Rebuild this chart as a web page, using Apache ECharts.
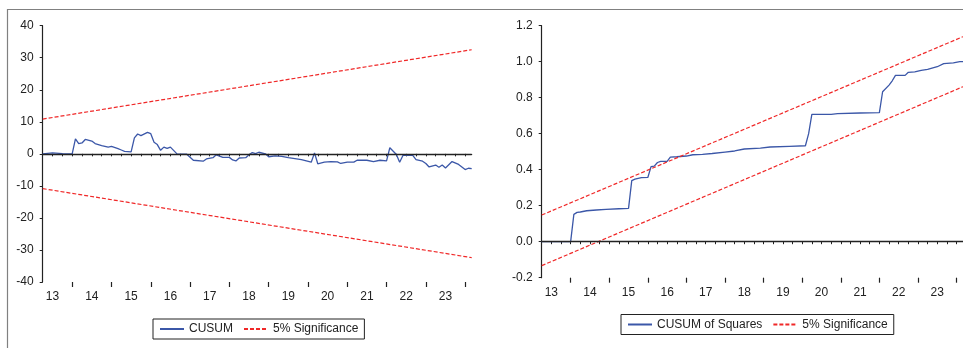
<!DOCTYPE html>
<html>
<head>
<meta charset="utf-8">
<script src="https://cdn.jsdelivr.net/npm/echarts@6.0.0/dist/echarts.min.js"></script>
<style>
  html, body { margin: 0; padding: 0; background: #fff; }
  #main { width: 963px; height: 348px; }
</style>
</head>
<body>
<div id="main"></div>
<script>
// monthly index, 0 = 2013M04 ... 131 = 2024M03
var yearLabels = ['13', '14', '15', '16', '17', '18', '19', '20', '21', '22', '23'];

// CUSUM (left panel)
var cusumMonth = [0, 3, 6, 9, 10, 11, 12, 13, 15, 16,
  18, 20, 21, 23, 24, 25, 27, 28, 29, 30,
  32, 33, 34, 35, 36, 37, 38, 39, 41, 44,
  46, 49, 50, 52, 53, 55, 57, 58, 59, 60,
  62, 63, 64, 65, 66, 68, 69, 71, 73, 75,
  77, 79, 82, 83, 84, 86, 88, 90, 91, 93,
  95, 96, 99, 101, 103, 105, 106, 108, 109, 110,
  113, 114, 116, 117, 118, 120, 121, 122, 123, 125,
  127, 129, 130, 131];
var cusumValue = [0, 0.3, 0.1, 0, 4.7, 3.2, 3.4, 4.5, 4.0, 3.2,
  2.6, 2.1, 2.3, 1.6, 1.2, 0.8, 0.6, 5.0, 6.2, 5.7,
  6.7, 6.3, 3.6, 2.9, 1.1, 2.1, 1.7, 2.1, 0, -0.1,
  -2.0, -2.3, -1.6, -1.2, -0.3, -1.1, -1.1, -1.9, -2.2, -1.3,
  -1.2, -0.3, 0.4, 0.1, 0.5, 0, -0.9, -0.6, -0.8, -1.2,
  -1.5, -1.8, -2.6, 0.3, -3.1, -2.6, -2.4, -2.5, -3.0, -2.6,
  -2.6, -2.0, -2.0, -2.4, -2.0, -2.2, 1.9, -0.2, -2.6, -0.5,
  -0.5, -1.8, -2.3, -3.0, -4.1, -3.5, -4.2, -3.5, -4.4, -2.4,
  -3.3, -4.9, -4.5, -4.6];

// CUSUM of squares (right panel)
var sqMonth = [0, 9, 10, 11, 12, 14, 17, 20, 24, 27,
  28, 29, 31, 33, 34, 35, 36, 37, 39, 40,
  42, 45, 47, 50, 53, 57, 60, 63, 68, 71,
  77, 82, 83, 84, 90, 92, 99, 105, 106, 108,
  109, 110, 113, 114, 116, 118, 120, 123, 125, 128,
  130, 131];
var sqValue = [0, 0, 0.152, 0.163, 0.165, 0.172, 0.176, 0.180, 0.183, 0.185,
  0.339, 0.348, 0.356, 0.357, 0.417, 0.420, 0.440, 0.446, 0.446, 0.470,
  0.472, 0.476, 0.483, 0.485, 0.490, 0.498, 0.504, 0.515, 0.520, 0.526,
  0.530, 0.533, 0.600, 0.707, 0.707, 0.711, 0.715, 0.717, 0.833, 0.870,
  0.894, 0.924, 0.924, 0.941, 0.944, 0.952, 0.957, 0.972, 0.989, 0.994,
  1.0, 1.0];

// 5% significance bands (start / end of sample)
var sigMonth = [0, 131];
var cusumUpper = [10.85, 32.5];
var cusumLower = [-10.85, -32.4];
var sqUpper = [0.148, 1.139];
var sqLower = [-0.133, 0.861];

var BLUE = '#3b57a8';
var RED = '#f02828';
var INK = '#222';
var FONT = '"Liberation Sans", Arial, sans-serif';

function pairs(xs, ys) {
  var out = [];
  for (var i = 0; i < xs.length; i++) out.push([xs[i], ys[i]]);
  return out;
}

// quarter ticks, year ticks (January) and year labels (mid year)
var minorTicks = [], majorTicks = [], labelPos = [];
for (var m = 0; m <= 129; m += 3) minorTicks.push(m);
for (var m = 9; m <= 131; m += 12) majorTicks.push(m);
for (var k = 0; k < yearLabels.length; k++) labelPos.push(3 + 12 * k);

function xAxes(grid) {
  return [
    {
      type: 'value', gridIndex: grid, position: 'bottom', min: 0, max: 131,
      axisLine: { show: true, lineStyle: { color: INK, width: 1.2 } },
      axisTick: { show: true, customValues: minorTicks, length: 2.5, lineStyle: { color: INK, width: 1 } },
      axisLabel: { show: false },
      splitLine: { show: false }
    },
    {
      type: 'value', gridIndex: grid, position: 'bottom', min: 0, max: 131,
      axisLine: { show: false },
      axisTick: { show: true, customValues: majorTicks, length: 5, lineStyle: { color: INK, width: 1.2 } },
      axisLabel: {
        show: true, customValues: labelPos, margin: 9,
        fontFamily: FONT, fontSize: 12, color: INK,
        formatter: function (v) { return yearLabels[Math.round((v - 3) / 12)]; }
      },
      splitLine: { show: false }
    }
  ];
}

function yAxis(grid, min, max, step, fmt) {
  return {
    type: 'value', gridIndex: grid, min: min, max: max, interval: step,
    axisLine: { show: true, lineStyle: { color: INK, width: 1.2 } },
    axisTick: { show: true, length: 3, lineStyle: { color: INK } },
    axisLabel: { margin: 9, fontFamily: FONT, fontSize: 12, color: INK, formatter: fmt },
    splitLine: { show: false }
  };
}

function mainLine(name, xi, yi, data) {
  return {
    name: name, type: 'line', xAxisIndex: xi, yAxisIndex: yi,
    data: data, symbol: 'none', showSymbol: false,
    lineStyle: { color: BLUE, width: 1.3 }, itemStyle: { color: BLUE },
    z: 3,
    markLine: {
      silent: true, symbol: ['none', 'none'], label: { show: false },
      lineStyle: { color: INK, type: 'solid', width: 1.3 },
      data: [{ yAxis: 0 }]
    }
  };
}

function sigLine(xi, yi, data) {
  return {
    name: '5% Significance', type: 'line', xAxisIndex: xi, yAxisIndex: yi,
    data: data, symbol: 'none', showSymbol: false,
    lineStyle: { color: RED, width: 1.2, type: [4, 2] }, itemStyle: { color: RED },
    z: 4
  };
}

function legend(left, top, first) {
  return {
    left: left, top: top, orient: 'horizontal',
    data: [first, '5% Significance'],
    borderColor: INK, borderWidth: 1, borderRadius: 0,
    padding: [4, 6, 4, 6], itemWidth: 24, itemHeight: 12, itemGap: 10,
    itemStyle: { opacity: 0 },
    textStyle: { fontFamily: FONT, fontSize: 12, color: INK },
    selectedMode: false
  };
}

var chart = echarts.init(document.getElementById('main'), null, { renderer: 'canvas' });

option = {
  animation: false,
  backgroundColor: '#fff',
  textStyle: { fontFamily: FONT },
  grid: [
    { left: 42.7, top: 25.7, width: 429, height: 256.3 },
    { left: 541.7, top: 25.7, width: 421.4, height: 252 }
  ],
  xAxis: xAxes(0).concat(xAxes(1)),
  yAxis: [
    yAxis(0, -40, 40, 10),
    yAxis(1, -0.2, 1.2, 0.2, function (v) { return v.toFixed(1); })
  ],
  legend: [
    legend(153, 319, 'CUSUM'),
    legend(621, 314.5, 'CUSUM of Squares')
  ],
  graphic: [
    {
      type: 'polyline', silent: true,
      shape: { points: [[7.5, 348], [7.5, 9.5], [963, 9.5]] },
      style: { stroke: '#808080', lineWidth: 1.2, fill: null }
    }
  ],
  series: [
    mainLine('CUSUM', 0, 0, pairs(cusumMonth, cusumValue)),
    sigLine(0, 0, pairs(sigMonth, cusumUpper)),
    sigLine(0, 0, pairs(sigMonth, cusumLower)),
    mainLine('CUSUM of Squares', 2, 1, pairs(sqMonth, sqValue)),
    sigLine(2, 1, pairs(sigMonth, sqUpper)),
    sigLine(2, 1, pairs(sigMonth, sqLower))
  ]
};
chart.setOption(option);
</script>
</body>
</html>
